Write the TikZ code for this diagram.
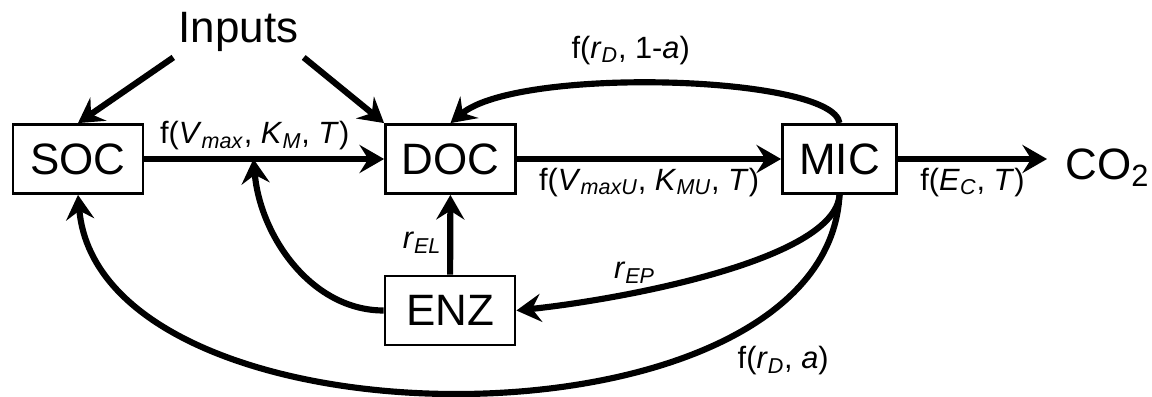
\documentclass[tikz,border=0pt]{standalone}
\usepackage{fontspec}
\setmainfont{Liberation Sans}
\usepackage{tikz}
\usetikzlibrary{arrows.meta, calc}

\newcommand{\varsub}[2]{\textit{#1}\textsubscript{\textit{#2}}}

\begin{document}
\begin{tikzpicture}[
    box/.style={draw, line width=1.6pt, minimum width=2.6cm, minimum height=1.38cm, font=\fontsize{25}{30}\selectfont},
    flow/.style={line width=3.5pt, -{Stealth[length=14pt, width=16pt, inset=5pt]}},
    lbl/.style={font=\fontsize{17.5}{21}\selectfont}
]
    \useasboundingbox (0,0) rectangle (23.04,7.94);

    % Draw pools
    \node[box] (soc) at (1.56,4.76) {SOC};
    \node[box] (doc) at (9.01,4.76) {DOC};
    \node[box, minimum width=2.28cm] (mic) at (16.79,4.76) {MIC};
    \node[box] (enz) at (9.0,1.73) {ENZ};
    \node[font=\fontsize{25}{30}\selectfont, anchor=base, inner sep=0.1cm] (inputs) at (4.77,7.08) {Inputs};
    \node[font=\fontsize{25}{30}\selectfont, anchor=base west, inner sep=0.36cm] (co2) at (20.94,4.34) {CO\textsubscript{2}};

    % Draw fluxes
    \draw[flow] (inputs.south west) -- (soc.north);
    \draw[flow] (inputs.south east) -- (doc.north west);
    \draw[flow] (soc) -- node[lbl, above, pos=0.46] {f(\varsub{V}{max}, \varsub{K}{M}, \textit{T})} (doc);
    \draw[flow] (doc) -- node[lbl, below] {f(\varsub{V}{maxU}, \varsub{K}{MU}, \textit{T})} (mic);
    \draw[flow] (mic.east) -- node[lbl, below] {f(\varsub{E}{C}, \textit{T})} (mic.east -| co2.west);
    \draw[flow] (enz) -- node[lbl, left, pos=0.4] {\varsub{r}{EL}} (doc);

    % Draw feedback loops
    \coordinate (join) at ($(soc.east)!0.455!(doc.west)$);
    \draw[flow] (enz.west) to[out=180, in=-85, out distance=1.44cm, in distance=1.55cm] (join);
    \draw[flow] (mic.north) to[out=98, in=40, out distance=0.97cm, in distance=1.77cm] node[lbl, pos=0.57, above=6pt] {f(\varsub{r}{D}, 1-\textit{a})} (doc.north);
    \draw[flow] (mic.south) to[out=-94, in=6, out distance=1.32cm, in distance=2.05cm] node[lbl, pos=0.69, above] {\varsub{r}{EP}} (enz.east);
    \draw[flow] (mic.south) to[out=-93, in=-85, out distance=5.3cm, in distance=5.25cm] node[lbl, pos=0.2, xshift=0.52cm, yshift=-0.78cm] {f(\varsub{r}{D}, \textit{a})} (soc.south);
\end{tikzpicture}
\end{document}
